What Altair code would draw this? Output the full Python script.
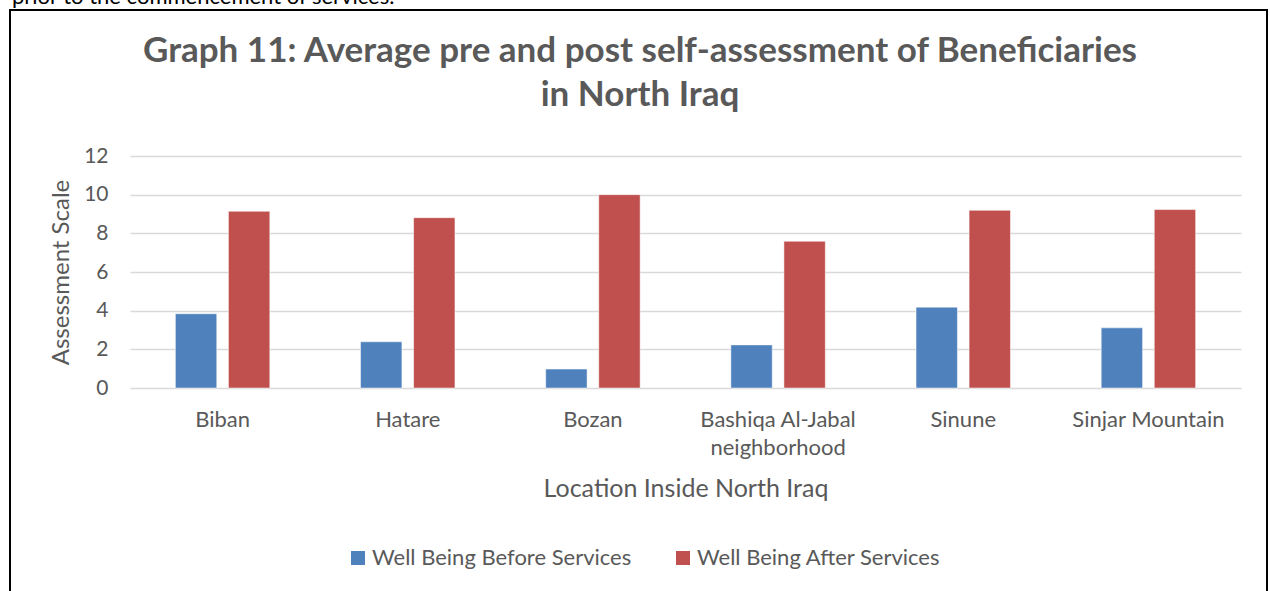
import altair as alt
import pandas as pd

locations = ["Biban", "Hatare", "Bozan", "Bashiqa Al-Jabal neighborhood", "Sinune", "Sinjar Mountain"]
series = ["Well Being Before Services", "Well Being After Services"]
before = [3.84, 2.39, 0.98, 2.23, 4.18, 3.11]
after = [9.14, 8.81, 10.0, 7.59, 9.19, 9.23]
colors = ["#4F81BD", "#C0504D"]
y_ticks = [0, 2, 4, 6, 8, 10, 12]
title_lines = ["Graph 11: Average pre and post self-assessment of Beneficiaries", "in North Iraq"]
above_text = "prior to the commencement of services."

rows = []
for loc, b, a in zip(locations, before, after):
    rows.append({"location": loc, "series": series[0], "value": b})
    rows.append({"location": loc, "series": series[1], "value": a})
df = pd.DataFrame(rows)

FONT = "Lato"
GRAY = "#595959"

bars = alt.Chart(df).mark_bar(stroke="white", strokeWidth=0.5).encode(
    x=alt.X("location:N", sort=locations,
            scale=alt.Scale(paddingInner=0.49, paddingOuter=0.245),
            axis=alt.Axis(title="Location Inside North Iraq", labelAngle=0,
                          labelExpr="datum.label == 'Bashiqa Al-Jabal neighborhood' ? ['Bashiqa Al-Jabal', 'neighborhood'] : datum.label",
                          labelFontSize=22, labelLineHeight=28, labelPadding=21,
                          labelColor=GRAY, labelFont=FONT, labelLimit=0,
                          titleFontSize=25, titleColor=GRAY, titleFont=FONT,
                          titleFontWeight="normal", titlePadding=18,
                          ticks=False, domain=False, grid=False)),
    xOffset=alt.XOffset("series:N", sort=series,
                        scale=alt.Scale(paddingInner=0.22, paddingOuter=0)),
    y=alt.Y("value:Q", scale=alt.Scale(domain=[0, 12], nice=False),
            axis=alt.Axis(title="Assessment Scale", values=y_ticks,
                          labelFontSize=21, labelColor=GRAY, labelFont=FONT,
                          labelPadding=22,
                          titleFontSize=24, titleColor=GRAY, titleFont=FONT,
                          titleFontWeight="normal", titlePadding=10,
                          ticks=False, domain=False,
                          gridColor="#D9D9D9", gridWidth=1.5)),
    color=alt.Color("series:N", sort=series,
                    scale=alt.Scale(domain=series, range=colors),
                    legend=alt.Legend(title=None, orient="none", legendX=217, legendY=391,
                                      direction="horizontal", symbolType="square",
                                      symbolSize=196, symbolStrokeWidth=0,
                                      labelFontSize=22, labelColor=GRAY, labelFont=FONT,
                                      labelLimit=0, labelOffset=3, columnPadding=40, padding=0)),
)

one = alt.Data(values=[{"k": 1}])

frame = alt.Chart(one).mark_rect(
    filled=False, stroke="black", strokeWidth=2
).encode(
    x=alt.value(-120), x2=alt.value(1137), y=alt.value(-146), y2=alt.value(460)
)

above = alt.Chart(one).mark_text(
    align="left", baseline="alphabetic", fontSize=22, font=FONT, color="black"
).encode(
    x=alt.value(-118), y=alt.value(-152), text=alt.value(above_text)
)

title1 = alt.Chart(one).mark_text(
    align="center", baseline="alphabetic", fontSize=35, font=FONT, fontWeight="bold", color=GRAY
).encode(x=alt.value(510), y=alt.value(-94), text=alt.value(title_lines[0]))

title2 = alt.Chart(one).mark_text(
    align="center", baseline="alphabetic", fontSize=35, font=FONT, fontWeight="bold", color=GRAY
).encode(x=alt.value(510), y=alt.value(-50), text=alt.value(title_lines[1]))

chart = alt.layer(bars, frame, above, title1, title2).properties(
    width=1111, height=232,
    autosize=alt.AutoSizeParams(type="none"),
    padding={"left": 130, "top": 156, "right": 29, "bottom": 203},
    background="white",
).configure_view(strokeWidth=0, stroke="transparent")

chart.save("out.html", embed_options={"renderer": "svg", "actions": False})
